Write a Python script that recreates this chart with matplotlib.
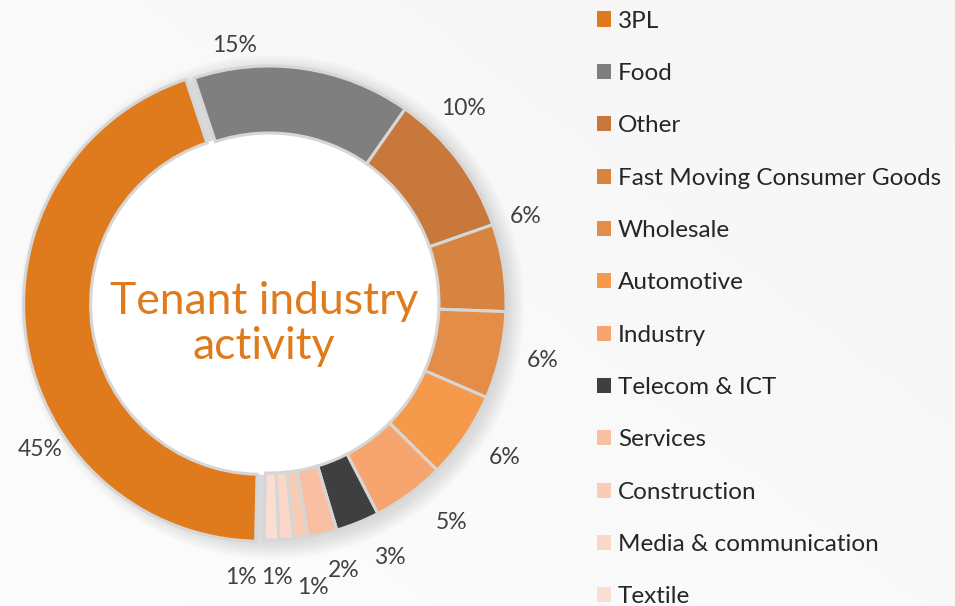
import matplotlib.pyplot as plt
from matplotlib.patches import Wedge, Circle, Patch
import numpy as np

# tenant industry split (%)
categories = ['3PL', 'Food', 'Other', 'Fast Moving Consumer Goods', 'Wholesale',
              'Automotive', 'Industry', 'Telecom & ICT', 'Services', 'Construction',
              'Media & communication', 'Textile']
shares = [45, 15, 10, 6, 6, 6, 5, 3, 2, 1, 1, 1]
colors = ['#E07B1D', '#7F7F7F', '#C8783A', '#D68440', '#E48D48', '#F5994B',
          '#F7A56F', '#3F3F3F', '#F8BFA3', '#F9CCB6', '#FAD7C8', '#FBDED3']

# label placement tweaks: clockwise shift (deg) from wedge middle, distance from centre
label_shift = [-24, -16, -8, -10, -1, -1, -3.5, -3.5, -2.5, -1, 2.5, 6.5]
label_dist = [272, 260, 275, 271, 280, 282, 285, 282, 278, 288, 275, 276]

plt.rcParams['font.family'] = ['Lato', 'DejaVu Sans']

fig = plt.figure(figsize=(9.55, 6.06), dpi=100)
ax = fig.add_axes([0, 0, 1, 1])

cx, cy, R, w = 269, 303, 237, 67

# soft background
gx, gy = np.meshgrid(np.linspace(0, 1, 200), np.linspace(0, 1, 130))
grad = 0.55 * gx + 0.45 * gy
ax.imshow(grad, extent=[0, 955, 0, 606], origin='lower', cmap='Greys',
          vmin=-0.4, vmax=18, zorder=0, aspect='auto')

# shadow under the ring
for i in range(10):
    ax.add_patch(Circle((cx + 3, cy - 4), R + 1 + i * 1.6, color='black',
                        alpha=0.012, zorder=0.2, lw=0))
ax.add_patch(Circle((cx, cy), R - w + 10, color='white', zorder=0.3, lw=0))

wedges, _ = ax.pie(shares, colors=colors, startangle=-91.2, counterclock=False,
                   radius=R, center=(cx, cy), explode=[8.5] + [0] * 11,
                   wedgeprops=dict(width=w, edgecolor='#D6D6D6', linewidth=2.2),
                   frame=True)
for wd in wedges:
    wd.set_zorder(2)

# grey fill showing in the gaps next to the pulled-out slice
big = wedges[0]
ax.add_patch(Wedge((cx, cy), R - 2, big.theta2 - 5, big.theta1 + 365, width=w - 4,
                   color='#D9D9D9', zorder=1, lw=0))

for wd, sh, dist, v in zip(wedges, label_shift, label_dist, shares):
    ang = np.deg2rad((wd.theta1 + wd.theta2) / 2 - sh)
    ax.text(cx + dist * np.cos(ang), cy + dist * np.sin(ang), f'{v}%',
            ha='center', va='center', fontsize=16.5, color='#404040', zorder=3)

ax.text(264, 282, 'Tenant industry\nactivity', ha='center', va='center',
        fontsize=32, color='#E07B1D', linespacing=1.15, zorder=3)

handles = [Patch(facecolor=c, edgecolor='none') for c in colors]
ax.legend(handles, categories, loc='upper left', bbox_to_anchor=(582 / 955, 610 / 606),
          frameon=False, fontsize=17.5, handlelength=0.58, handleheight=0.58,
          handletextpad=0.3, labelspacing=1.29, borderpad=0.1,
          labelcolor='#262626')

ax.set_xlim(0, 955)
ax.set_ylim(0, 606)
ax.axis('off')

fig.savefig('out.png', dpi=100)
